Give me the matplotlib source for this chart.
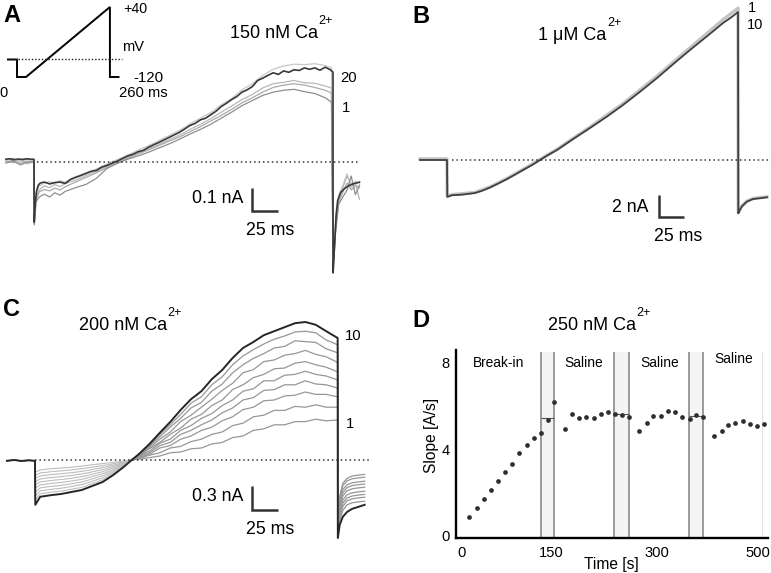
import matplotlib
matplotlib.use('Agg')
import matplotlib.pyplot as plt

plt.rcParams['font.family'] = ['Liberation Sans', 'DejaVu Sans']
plt.rcParams['mathtext.fontset'] = 'custom'
plt.rcParams['mathtext.rm'] = 'Liberation Sans'

W, H = 771, 573

# ================= DATA =================
# Panel A inset: voltage protocol (ms, mV)
protoA_t = [0, 23, 23, 46, 260, 260, 282]
protoA_mV = [-80, -80, -120, -120, 40, -120, -120]

# Panel A: 150 nM Ca2+, trace 20 (dark), time in ms, current in pA
tA_dark = [-27, -23, -19, -15, -11, -7, -3, 0, 0.2, 1.2, 2.5, 4, 6,
           10, 15, 20, 25, 30, 35, 40, 45, 50, 55,
           60, 65, 70, 75, 80, 85, 90, 95, 100, 105,
           110, 115, 120, 125, 130, 135, 140, 145, 150, 155,
           160, 165, 170, 175, 180, 185, 190, 195, 200, 205,
           210, 215, 220, 225, 230, 235, 240, 245, 250, 255,
           260, 265, 270, 275, 280, 285,
           287.5, 287.6, 289, 290.5, 292, 295, 298, 302, 306, 310, 313]
iA_dark = [12, 14, 10, 13, 11, 14, 12, 12, -258, -175, -125, -100, -90,
           -86, -94, -88, -86, -92, -75, -66, -58, -49, -40,
           -36, -22, -15, -5, 4, 15, 26, 33, 44, 50,
           63, 74, 84, 95, 106, 117, 128, 142, 157, 166,
           181, 188, 203, 218, 238, 252, 268, 281, 300, 310,
           324, 350, 360, 372, 383, 376, 391, 385, 396, 393,
           404, 398, 404, 394, 407, 396,
           386, -476, -356, -227, -165, -130, -116, -103, -95, -90, -86]

# Panel A: lighter sweeps (1 ... 19)
tA_grey = [-27, -20, -13, -6, 0, 0.3, 2, 5, 10, 15, 20, 25, 30,
           40, 50, 60, 70, 80, 90, 100, 110, 120, 130, 140, 150, 160, 170,
           180, 190, 200, 210, 220, 230, 240, 250, 260, 270, 280, 286,
           287.6, 290, 293, 297, 301, 305, 309, 313]
iA_sweep1 = [-4, 3, -12, 0, -2, -270, -170, -150, -138, -150, -132, -142, -126,
             -110, -96, -70, -28, -6, 12, 26, 42, 60, 78, 98, 120, 140, 162,
             188, 214, 242, 264, 286, 300, 308, 312, 302, 294, 276, 257,
             -470, -300, -180, -150, -120, -60, -140, -100]
iA_sweep2 = [6, -3, 10, -8, 4, -265, -150, -120, -102, -110, -96, -106, -92,
             -78, -58, -40, -18, 0, 20, 38, 56, 76, 96, 116, 140, 162, 186,
             214, 240, 268, 290, 318, 336, 342, 350, 340, 338, 326, 318,
             -450, -280, -160, -110, -60, -95, -90, -160]
iA_sweep3 = [8, 16, 2, 12, 6, -250, -130, -104, -90, -84, -92, -80, -86,
             -62, -46, -30, -8, 10, 30, 50, 70, 92, 114, 136, 164, 188, 212,
             246, 272, 310, 336, 372, 398, 412, 420, 418, 422, 414, 405,
             -430, -260, -140, -100, -50, -110, -80, -95]
iA_sweep4 = [0, 8, -6, 4, 2, -262, -160, -128, -118, -124, -112, -120, -106,
             -86, -66, -46, -24, -4, 16, 34, 52, 70, 90, 108, 130, 152, 176,
             200, 226, 254, 276, 300, 320, 330, 336, 330, 320, 308, 296,
             -460, -290, -170, -130, -90, -120, -100, -110]

# Panel B: 1 uM Ca2+, time in ms, current in nA
tB_10 = [-27, -15, 0, 0.3, 5, 15, 28, 35, 43, 51, 60, 68, 76, 85, 93, 101, 110,
         126, 143, 160, 176, 193, 210, 226, 243, 260, 276, 284, 291,
         291.3, 292.5, 294.7, 299.7, 306, 320]
iB_10 = [0, 0, 0, -3.35, -3.2, -3.15, -3.0, -2.8, -2.5, -2.15, -1.73, -1.33, -0.91,
         -0.46, 0, 0.45, 0.91, 1.9, 2.91, 3.95, 5.0, 6.2, 7.45, 8.7, 10.0, 11.25,
         12.45, 12.95, 13.45, -4.85, -4.6, -4.24, -3.79, -3.55, -3.39]
tB_1 = [-27, 0, 0.3, 5, 28, 43, 60, 76, 93, 110, 143, 176, 210, 243, 276, 291,
        291.3, 294.7, 299.7, 306, 320]
iB_1 = [0.1, 0.1, -3.3, -3.15, -2.95, -2.45, -1.68, -0.86, 0.05, 0.97, 3.0, 5.12,
        7.62, 10.2, 12.75, 13.8, -4.8, -4.2, -3.75, -3.5, -3.35]

# Panel C: 200 nM Ca2+, sweeps 1..10, time in ms, current in nA
tC = [-27, -20, -13, -6, 0, 0.3, 5, 15, 25, 35, 45, 55, 65, 75, 85, 93,
      100, 110, 120, 130, 140, 150, 160, 170, 180, 190, 200, 210, 220, 230,
      240, 250, 260, 270, 280, 291, 291.2, 293, 296, 300, 305, 310, 317]
iC_1 = [-0.01, 0.0, -0.012, -0.004, -0.01, -0.15,
        -0.125, -0.11, -0.10, -0.09, -0.075, -0.06, -0.045, -0.03, -0.015, 0.0,
        0.01, 0.03, 0.05, 0.09, 0.10, 0.14, 0.15, 0.20, 0.22, 0.28,
        0.30, 0.37, 0.39, 0.44, 0.44, 0.48, 0.48, 0.51, 0.49, 0.50,
        -0.90, -0.45, -0.29, -0.23, -0.20, -0.19, -0.18]
iC_2 = [-0.01, 0.0, -0.012, -0.004, -0.01, -0.19,
        -0.162, -0.147, -0.136, -0.124, -0.108, -0.089, -0.071, -0.048, -0.023, 0.0,
        0.02, 0.06, 0.09, 0.15, 0.17, 0.23, 0.26, 0.32, 0.35, 0.43,
        0.46, 0.54, 0.56, 0.62, 0.62, 0.67, 0.66, 0.69, 0.66, 0.66,
        -0.90, -0.48, -0.32, -0.26, -0.235, -0.225, -0.215]
iC_3 = [-0.01, 0.0, -0.012, -0.004, -0.01, -0.23,
        -0.199, -0.183, -0.172, -0.159, -0.142, -0.119, -0.096, -0.066, -0.032, 0.0,
        0.03, 0.07, 0.15, 0.18, 0.26, 0.30, 0.37, 0.41, 0.49, 0.54,
        0.63, 0.66, 0.74, 0.75, 0.80, 0.81, 0.85, 0.82, 0.82, 0.79,
        -0.90, -0.52, -0.37, -0.31, -0.285, -0.275, -0.265]
iC_4 = [-0.01, 0.0, -0.012, -0.004, -0.01, -0.27,
        -0.237, -0.22, -0.208, -0.193, -0.175, -0.148, -0.122, -0.083, -0.04, 0.0,
        0.04, 0.09, 0.18, 0.22, 0.32, 0.37, 0.44, 0.50, 0.59, 0.65,
        0.75, 0.78, 0.87, 0.88, 0.94, 0.94, 0.99, 0.95, 0.94, 0.90,
        -0.92, -0.56, -0.41, -0.345, -0.32, -0.31, -0.30]
iC_5 = [-0.01, 0.0, -0.012, -0.004, -0.01, -0.31,
        -0.274, -0.257, -0.244, -0.228, -0.208, -0.178, -0.147, -0.101, -0.048, 0.0,
        0.05, 0.11, 0.21, 0.26, 0.37, 0.43, 0.52, 0.58, 0.68, 0.75,
        0.86, 0.89, 0.99, 0.99, 1.06, 1.07, 1.11, 1.07, 1.05, 1.00,
        -0.92, -0.60, -0.45, -0.385, -0.36, -0.35, -0.34]
iC_6 = [-0.01, 0.0, -0.012, -0.004, -0.01, -0.35,
        -0.311, -0.293, -0.281, -0.262, -0.242, -0.207, -0.173, -0.119, -0.057, 0.0,
        0.05, 0.14, 0.22, 0.32, 0.40, 0.51, 0.57, 0.68, 0.75, 0.88,
        0.94, 1.03, 1.07, 1.14, 1.15, 1.21, 1.23, 1.19, 1.16, 1.10,
        -0.94, -0.65, -0.50, -0.435, -0.41, -0.40, -0.39]
iC_7 = [-0.01, 0.0, -0.012, -0.004, -0.01, -0.40,
        -0.348, -0.33, -0.317, -0.297, -0.275, -0.237, -0.198, -0.137, -0.065, 0.0,
        0.06, 0.15, 0.26, 0.35, 0.48, 0.56, 0.66, 0.76, 0.87, 0.96,
        1.09, 1.13, 1.23, 1.25, 1.31, 1.33, 1.37, 1.32, 1.29, 1.22,
        -0.94, -0.69, -0.54, -0.475, -0.45, -0.44, -0.43]
iC_8 = [-0.01, 0.0, -0.012, -0.004, -0.01, -0.45,
        -0.386, -0.367, -0.353, -0.331, -0.308, -0.266, -0.224, -0.154, -0.073, 0.0,
        0.06, 0.17, 0.29, 0.41, 0.52, 0.65, 0.72, 0.86, 0.95, 1.09,
        1.19, 1.27, 1.33, 1.40, 1.42, 1.49, 1.48, 1.47, 1.39, 1.34,
        -0.96, -0.72, -0.58, -0.51, -0.485, -0.475, -0.465]
iC_9 = [-0.01, 0.0, -0.012, -0.004, -0.01, -0.50,
        -0.423, -0.403, -0.389, -0.366, -0.342, -0.296, -0.249, -0.172, -0.082, 0.0,
        0.07, 0.18, 0.32, 0.44, 0.57, 0.71, 0.79, 0.94, 1.04, 1.19,
        1.30, 1.38, 1.45, 1.51, 1.55, 1.60, 1.61, 1.59, 1.50, 1.44,
        -0.96, -0.76, -0.63, -0.56, -0.535, -0.525, -0.515]
iC_10 = [-0.01, 0.0, -0.012, -0.004, -0.01, -0.56,
         -0.46, -0.44, -0.425, -0.40, -0.375, -0.325, -0.275, -0.19, -0.09, 0.0,
         0.075, 0.2, 0.34, 0.475, 0.625, 0.76, 0.86, 1.01, 1.125, 1.275,
         1.40, 1.475, 1.56, 1.61, 1.66, 1.71, 1.725, 1.69, 1.61, 1.525,
         -0.975, -0.81, -0.71, -0.65, -0.61, -0.59, -0.56]

# Panel D: 250 nM Ca2+, slope vs time
tD = [12, 25, 37, 49, 61, 73, 85, 97, 109, 121, 133, 145, 156,
      174, 186, 198, 210, 222, 234, 246, 258, 270, 282,
      299, 312, 323, 336, 348, 359, 372, 384, 395, 407,
      425, 438, 449, 461, 474, 486, 497, 509]
slopeD = [0.88, 1.26, 1.72, 2.11, 2.53, 2.95, 3.31, 3.84, 4.19, 4.53, 4.76, 5.35, 6.19,
          4.92, 5.62, 5.43, 5.48, 5.46, 5.63, 5.71, 5.63, 5.58, 5.51,
          4.86, 5.20, 5.56, 5.56, 5.79, 5.70, 5.48, 5.40, 5.60, 5.51,
          4.61, 4.86, 5.14, 5.23, 5.31, 5.15, 5.07, 5.16]
bandD_start = [133, 257, 383]
bandD_end = [156, 282, 407]
bandD_mean = [5.45, 5.64, 5.52]
phaseD_labels = ['Break-in', 'Saline', 'Saline', 'Saline']
phaseD_x = [61, 205, 334, 459]
phaseD_y = [7.99, 7.99, 7.99, 8.16]
xticksD = [0, 150, 329, 500]
xtick_labelsD = ['0', '150', '300', '500']
yticksD = [0, 4, 8]

# ================= FIGURE =================
fig = plt.figure(figsize=(W / 100, H / 100), dpi=100)
renderer = fig.canvas.get_renderer()


def px_axes(x0, y0, x1, y1):
    return fig.add_axes([x0 / W, 1 - y1 / H, (x1 - x0) / W, (y1 - y0) / H])


def ftext(x, y, s, **kw):
    kw.setdefault('va', 'baseline')
    return fig.text(x / W, 1 - y / H, s, **kw)


def ca_title(x, y, main, size=13.0, sup='2+', sup_size=9.0, raise_px=14):
    t = ftext(x, y, main, fontsize=size)
    bb = t.get_window_extent(renderer=renderer)
    fig.text((bb.x1 + 0.5) / W, 1 - (y - raise_px) / H, sup, fontsize=sup_size,
             va='baseline')


DOT = (0, (1, 1.9))
SB = dict(color='#333333', lw=1.8, solid_joinstyle='miter', solid_capstyle='butt')
LBL = 12.8

# ---- Panel A ----
axA = px_axes(0, 0, 390, 290)
axA.set_xlim(-32.69, 342.31)
axA.set_ylim(-549.1, 695.3)
axA.axis('off')
for ys, c in [(iA_sweep3, '#c8c8c8'), (iA_sweep2, '#b8b8b8'),
              (iA_sweep4, '#aaaaaa'), (iA_sweep1, '#8e8e8e')]:
    axA.plot(tA_grey, ys, color=c, lw=0.9)
axA.plot(tA_dark, iA_dark, color='#383838', lw=1.2)
axA.plot([2.9, 313.5], [0, 0], color='#333333', lw=1.1, ls=DOT)
axA.plot([209.6, 209.6, 234.6], [-110, -210, -210], **SB)

axI = px_axes(0, 0, 180, 100)
axI.set_xlim(-20.4, 438.8)
axI.set_ylim(-172.6, 56)
axI.axis('off')
axI.patch.set_alpha(0)
axI.plot(protoA_t, protoA_mV, color='black', lw=1.4, solid_joinstyle='miter')
axI.plot([0, 291], [-80, -80], color='#222222', lw=1.0, ls=(0, (1, 1.4)))

ftext(12, 22, 'A', fontsize=17, fontweight='bold', ha='center')
ftext(123.5, 12.7, '+40', fontsize=10.3)
ftext(121.7, 50.7, 'mV', fontsize=10.5)
ftext(133.3, 81.7, '-120', fontsize=10.8)
ftext(3, 96.7, '0', fontsize=10.5, ha='center')
ftext(119, 96.7, '260 ms', fontsize=10.6)
ca_title(229.5, 38.3, '150 nM Ca')
ftext(340, 81.7, '20', fontsize=10.7)
ftext(341.7, 111.7, '1', fontsize=10.7)
ftext(243, 203.3, '0.1 nA', fontsize=LBL, ha='right')
ftext(270.5, 235, '25 ms', fontsize=LBL, ha='center')

# ---- Panel B ----
axB = px_axes(390, 0, 771, 290)
axB.set_xlim(-57, 324)
axB.set_ylim(-11.818, 14.545)
axB.axis('off')
axB.plot(tB_1, iB_1, color='#c4c4c4', lw=2.4)
axB.plot(tB_10, iB_10, color='#404040', lw=1.3)
axB.plot([5, 323], [0, 0], color='#333333', lw=1.1, ls=DOT)
axB.plot([212, 212, 237], [-3.2, -5.2, -5.2], **SB)

ftext(421, 23, 'B', fontsize=17, fontweight='bold', ha='center')
ca_title(538.3, 40, '1 \u03bcM Ca')
ftext(748.3, 11.7, '1', fontsize=10.5)
ftext(747.3, 29.3, '10', fontsize=10.5)
ftext(648.5, 212, '2 nA', fontsize=LBL, ha='right')
ftext(678.3, 241, '25 ms', fontsize=LBL, ha='center')

# ---- Panel C ----
axC = px_axes(0, 290, 390, 573)
axC.set_xlim(-33.65, 341.35)
axC.set_ylim(-1.4125, 2.125)
axC.axis('off')
k = tC.index(93)
for ys in [iC_1, iC_2, iC_3, iC_4, iC_5, iC_6, iC_7, iC_8, iC_9]:
    axC.plot(tC[:k + 1], ys[:k + 1], color='#bdbdbd', lw=0.8)
    axC.plot(tC[k:], ys[k:], color='#979797', lw=0.9)
axC.plot(tC, iC_10, color='#262626', lw=1.4)
axC.plot([0, 322], [0, 0], color='#333333', lw=1.1, ls=DOT)
axC.plot([208.7, 208.7, 233.7], [-0.325, -0.625, -0.625], **SB)

ftext(12, 316, 'C', fontsize=17, fontweight='bold', ha='center')
ca_title(79, 330, '200 nM Ca')
ftext(345, 340, '10', fontsize=10.7)
ftext(345.7, 428.3, '1', fontsize=10.7)
ftext(243, 500.7, '0.3 nA', fontsize=LBL, ha='right')
ftext(270.5, 534, '25 ms', fontsize=LBL, ha='center')

# ---- Panel D ----
axD = px_axes(455.5, 350, 768, 537.7)
axD.set_xlim(-11, 516.4)
axD.set_ylim(-0.0925, 8.59)
for s in ['top', 'right']:
    axD.spines[s].set_visible(False)
for s in ['left', 'bottom']:
    axD.spines[s].set_linewidth(1.7)
    axD.spines[s].set_color('black')
for x0, x1, m in zip(bandD_start, bandD_end, bandD_mean):
    axD.axvspan(x0, x1, ymin=0, ymax=0.99, color='#f4f4f4', zorder=0, lw=0)
    axD.vlines([x0, x1], -0.0925, 8.52, color='#8a8a8a', lw=1.2, zorder=1)
    axD.hlines(m, x0, x1, color='#555555', lw=0.8, zorder=1)
axD.vlines([507], -0.0925, 8.52, color='#e2e2e2', lw=0.8, zorder=1)
axD.plot(tD, slopeD, 'o', ms=3.4, color='#2e2e2e', mec='none', zorder=3)
axD.set_xticks(xticksD)
axD.set_xticklabels(xtick_labelsD)
axD.set_yticks(yticksD)
axD.tick_params(axis='both', length=0, labelsize=10.6)
axD.tick_params(axis='x', pad=6)
axD.tick_params(axis='y', pad=4)
for lab, x, y in zip(phaseD_labels, phaseD_x, phaseD_y):
    axD.text(x, y, lab, fontsize=9.9, ha='center', va='center')

ftext(421, 327, 'D', fontsize=17, fontweight='bold', ha='center')
ca_title(548.3, 330, '250 nM Ca')
ftext(431.7, 435, 'Slope [A/s]', fontsize=11.2, rotation=90, ha='center', va='center')
ftext(611.7, 565, 'Time [s]', fontsize=11.2, ha='center', va='center')

fig.savefig('out.png', dpi=100)
